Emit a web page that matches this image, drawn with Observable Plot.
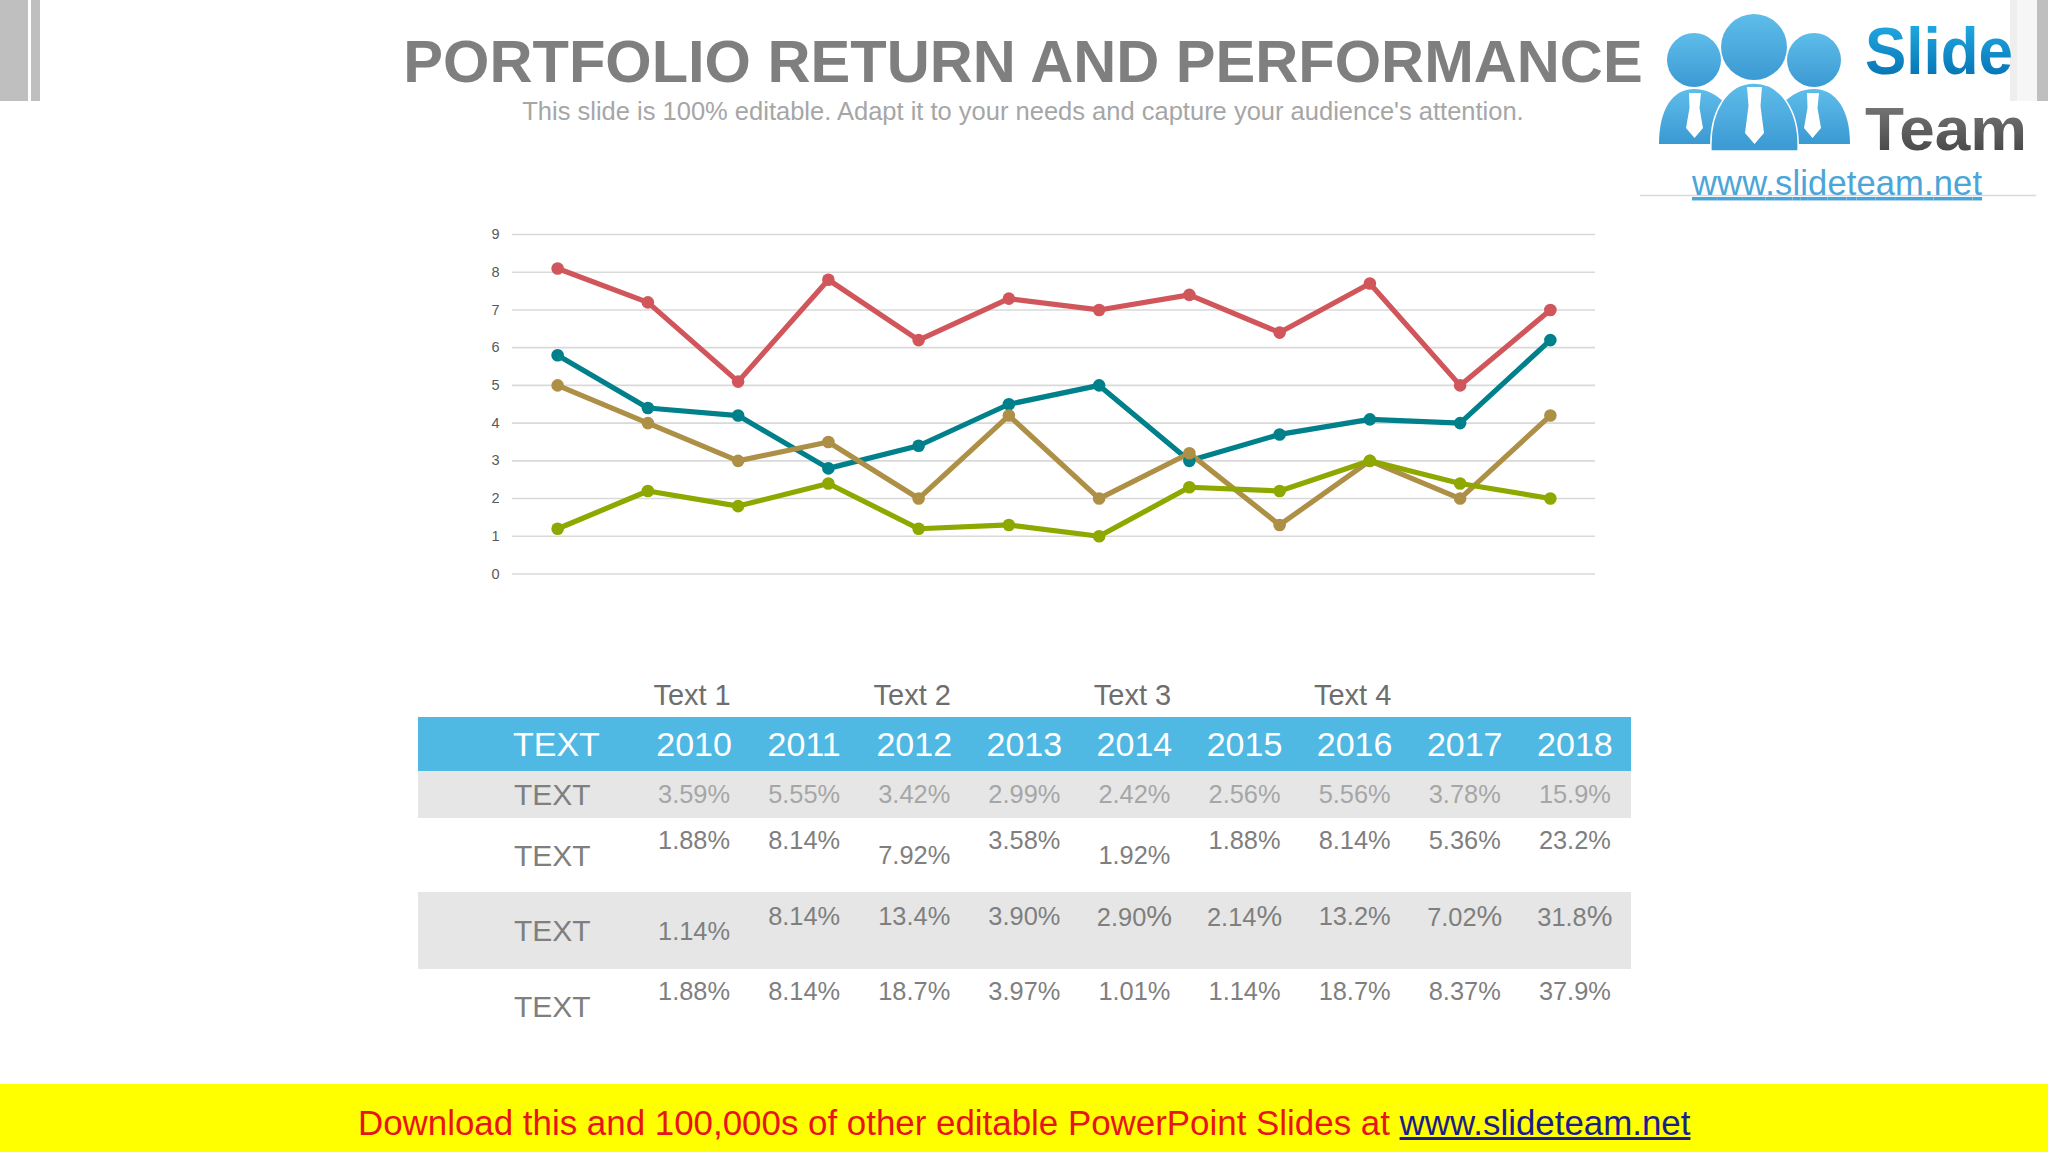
<!DOCTYPE html>
<html><head><meta charset="utf-8">
<script src="https://cdn.jsdelivr.net/npm/d3@7"></script>
<script src="https://cdn.jsdelivr.net/npm/@observablehq/plot@0.6"></script>
<style>
html,body{margin:0;padding:0;background:#fff;width:2048px;height:1152px;overflow:hidden;font-family:"Liberation Sans",Arial,sans-serif}
#page{position:relative;width:2048px;height:1152px;overflow:hidden}
.abs{position:absolute}
#chart{left:0;top:0}
#chart svg{background:transparent}
#title{left:0;top:25px;width:2048px;text-align:center;font-weight:700;font-size:59.6px;line-height:74px;color:#7f7f7f;white-space:nowrap}
#title span,#sub span{position:relative;left:-1px}
#sub{left:0;top:94px;width:2048px;text-align:center;font-size:25.5px;line-height:34px;color:#a6a6a6;white-space:nowrap}
#tbl{left:418px;top:676px;width:1213px;border-collapse:collapse;table-layout:fixed}
#tbl td{padding:0;box-sizing:border-box;text-align:center;white-space:nowrap;vertical-align:middle;color:#7f7f7f;font-size:25.4px}
#tbl td span{position:relative;left:-1px}
#tbl td span.big{left:0}
#tbl td.lab{text-align:left;padding-left:96px;font-size:30px}
#tbl tr.groups td{font-size:29px;color:#6e6e6e;height:41px}
#tbl tr.groups td span{left:-3px;top:-1px}
#tbl tr.head td{background:#4fb9e3;color:#fff;font-size:34px;height:54px}
#tbl tr.head td.lab{font-size:34px;padding-left:95px}
#tbl tr.shade td{background:#e6e6e6}
#tbl tr.r1 td{height:47px}
#tbl tr.r1 td:not(.lab){color:#a6a6a6}
#tbl tr.r2 td{height:73.5px;padding-top:2px}
#tbl tr.r3 td{height:77px;padding-top:2px}
#tbl tr.r4 td{height:76px}
#tbl td span.up{top:-15px}
.big{font-size:1.14em}
#banner{left:0;top:1084px;width:2048px;height:68px;background:#ffff00;color:#e8141c;font-size:34.9px;line-height:78px;white-space:nowrap}
#banner div{position:absolute;left:358px;top:0;white-space:pre}
#banner a{color:#1c1c8c;text-decoration:underline}
</style></head>
<body><div id="page">
<div class="abs" style="left:0;top:0;width:28px;height:101px;background:#bfbfbf"></div>
<div class="abs" style="left:31px;top:0;width:9px;height:101px;background:#bfbfbf"></div>
<div class="abs" style="left:2010px;top:0;width:7px;height:101px;background:#eeeeee"></div>
<div class="abs" style="left:2017px;top:0;width:20px;height:101px;background:#f6f6f6"></div>
<div class="abs" style="left:2037px;top:0;width:11px;height:101px;background:#bfbfbf"></div>
<div id="chart" class="abs"></div>
<div id="title" class="abs"><span></span></div>
<div id="sub" class="abs"><span></span></div>
<table id="tbl" class="abs"><colgroup id="cols"></colgroup><tbody id="tb"></tbody></table>
<svg class="abs" style="left:1640px;top:0" width="408" height="210" viewBox="1640 0 408 210">
<defs>
<linearGradient id="gb" x1="0" x2="0" y1="0" y2="1"><stop offset="0" stop-color="#5fbdea"/><stop offset="1" stop-color="#3b99d3"/></linearGradient>
<linearGradient id="gs" x1="0" x2="0" y1="0" y2="1"><stop offset="0" stop-color="#27b4ea"/><stop offset="1" stop-color="#0069ac"/></linearGradient>
<linearGradient id="gt" x1="0" x2="0" y1="0" y2="1"><stop offset="0" stop-color="#808080"/><stop offset="1" stop-color="#3f3f3f"/></linearGradient>
</defs>
<g fill="url(#gb)">
<circle cx="1694" cy="60" r="27"/><circle cx="1814" cy="60" r="27"/>
<path d="M1659 144 C1659 110 1672 89 1694 89 C1706 89 1716 94 1726 104 L1726 144 Z"/>
<path d="M1782 144 L1782 104 C1792 94 1802 89 1814 89 C1836 89 1850 110 1850 144 Z"/>
</g>
<g fill="#fff">
<path d="M1689 93h12l-1.500 15 3.500 20-8.500 10-8.500-10 3.500-20z"/>
<path d="M1807 93h12l-1.500 15 3.500 20-8.500 10-8.500-10 3.500-20z"/>
</g>
<circle cx="1754" cy="47" r="33" fill="url(#gb)"/>
<path d="M1711 151 C1709 110 1728 83 1754 83 C1780 83 1800 110 1798 151 Z" fill="url(#gb)" stroke="#fff" stroke-width="1.500"/>
<path d="M1747 87h15l-1.500 19 3.500 27-9.500 11-9.500-11 3.500-27z" fill="#fff"/>
<text x="1865" y="74" font-family="'Liberation Sans',sans-serif" font-weight="700" font-size="67" fill="url(#gs)" textLength="148" lengthAdjust="spacingAndGlyphs">Slide</text>
<text x="1865" y="150" font-family="'Liberation Sans',sans-serif" font-weight="700" font-size="62" fill="url(#gt)" textLength="162" lengthAdjust="spacingAndGlyphs">Team</text>
<line x1="1640" x2="2036" y1="195.5" y2="195.5" stroke="#d9d9d9" stroke-width="1.5"/>
<text x="1692" y="195" font-family="'Liberation Sans',sans-serif" font-size="34.5" fill="#4ba5d8" textLength="290" text-decoration="underline">www.slideteam.net</text>
</svg>
<div id="banner" class="abs"><div></div></div>
</div>
<script>
// Chart series
const points = ["1","2","3","4","5","6","7","8","9","10","11","12"];
const seriesA = [8.1,7.2,5.1,7.8,6.2,7.3,7.0,7.4,6.4,7.7,5.0,7.0];
const seriesB = [5.8,4.4,4.2,2.8,3.4,4.5,5.0,3.0,3.7,4.1,4.0,6.2];
const seriesC = [5.0,4.0,3.0,3.5,2.0,4.2,2.0,3.2,1.3,3.0,2.0,4.2];
const seriesD = [1.2,2.2,1.8,2.4,1.2,1.3,1.0,2.3,2.2,3.0,2.4,2.0];
const seriesNames = ["Series A","Series B","Series C","Series D"];
const seriesColors = ["#d1565b","#00808a","#ae8f46","#8ea800"];
const yTicks = [0,1,2,3,4,5,6,7,8,9];

// Table
const groupLabels = ["Text 1","","Text 2","","Text 3","","Text 4","",""];
const years = ["2010","2011","2012","2013","2014","2015","2016","2017","2018"];
const rowLabel = "TEXT";
const row1 = ["3.59%","5.55%","3.42%","2.99%","2.42%","2.56%","5.56%","3.78%","15.9%"];
const row2 = ["1.88%","8.14%","7.92%","3.58%","1.92%","1.88%","8.14%","5.36%","23.2%"];
const row3 = ["1.14%","8.14%","13.4%","3.90%","2.90%","2.14%","13.2%","7.02%","31.8%"];
const row4 = ["1.88%","8.14%","18.7%","3.97%","1.01%","1.14%","18.7%","8.37%","37.9%"];

// Text
const titleText = "PORTFOLIO RETURN AND PERFORMANCE";
const subText = "This slide is 100% editable. Adapt it to your needs and capture your audience's attention.";
const bannerText = "Download this and 100,000s of other editable PowerPoint Slides at ";
const bannerLink = "www.slideteam.net";

const long = [seriesA,seriesB,seriesC,seriesD]
  .flatMap((vals,k) => vals.map((v,i) => ({series:seriesNames[k],x:points[i],y:v})));

const plot = Plot.plot({
  width:2048, height:660,
  marginLeft:512, marginRight:453, marginTop:234, marginBottom:86.5,
  x:{type:"point",domain:points,padding:0.5,round:false,axis:null},
  y:{domain:[0,9],ticks:yTicks,label:null},
  color:{type:"categorical",domain:seriesNames,range:seriesColors},
  style:{background:"transparent",fontFamily:"'Liberation Sans',sans-serif"},
  marks:[
    Plot.ruleY(yTicks,{stroke:"#d9d9d9",strokeWidth:1.6}),
    Plot.axisY({ticks:yTicks,tickSize:0,tickPadding:13,fontSize:14.5,color:"#595959",label:null,tickFormat:d=>String(d)}),
    Plot.line(long,{x:"x",y:"y",stroke:"series",z:"series",strokeWidth:5.2,curve:"linear",strokeLinejoin:"round"}),
    Plot.dot(long,{x:"x",y:"y",fill:"series",r:6.3,stroke:null})
  ]
});
document.getElementById("chart").appendChild(plot);

document.querySelector("#title span").textContent = titleText;
document.querySelector("#sub span").textContent = subText;
const bd = document.querySelector("#banner div");
bd.textContent = bannerText;
const a = document.createElement("a"); a.textContent = bannerLink; bd.appendChild(a);

// Build table
const cols = document.getElementById("cols");
[222].concat(years.map(()=>110.1)).forEach(w=>{const c=document.createElement("col");c.style.width=w+"px";cols.appendChild(c);});
const tb = document.getElementById("tb");
function addRow(cls,label,cells,raised,bigPct){
  const tr=document.createElement("tr");tr.className=cls;
  const l=document.createElement("td");l.className="lab";l.textContent=label;tr.appendChild(l);
  cells.forEach((v,i)=>{
    const td=document.createElement("td");
    const s=document.createElement("span");
    if(raised&&raised[i]) s.className="up";
    if(bigPct&&bigPct[i]){s.textContent=v.slice(0,-1);const b=document.createElement("span");b.className="big";b.textContent="%";s.appendChild(b);}
    else s.textContent=v;
    td.appendChild(s);tr.appendChild(td);
  });
  tb.appendChild(tr);
}
addRow("groups","",groupLabels);
addRow("head",rowLabel,years);
addRow("r1 shade",rowLabel,row1);
addRow("r2",rowLabel,row2,[1,1,0,1,0,1,1,1,1]);
addRow("r3 shade",rowLabel,row3,[0,1,1,1,1,1,1,1,1],[0,0,0,0,1,1,0,1,1]);
addRow("r4",rowLabel,row4,[1,1,1,1,1,1,1,1,1]);
</script>
</body></html>
